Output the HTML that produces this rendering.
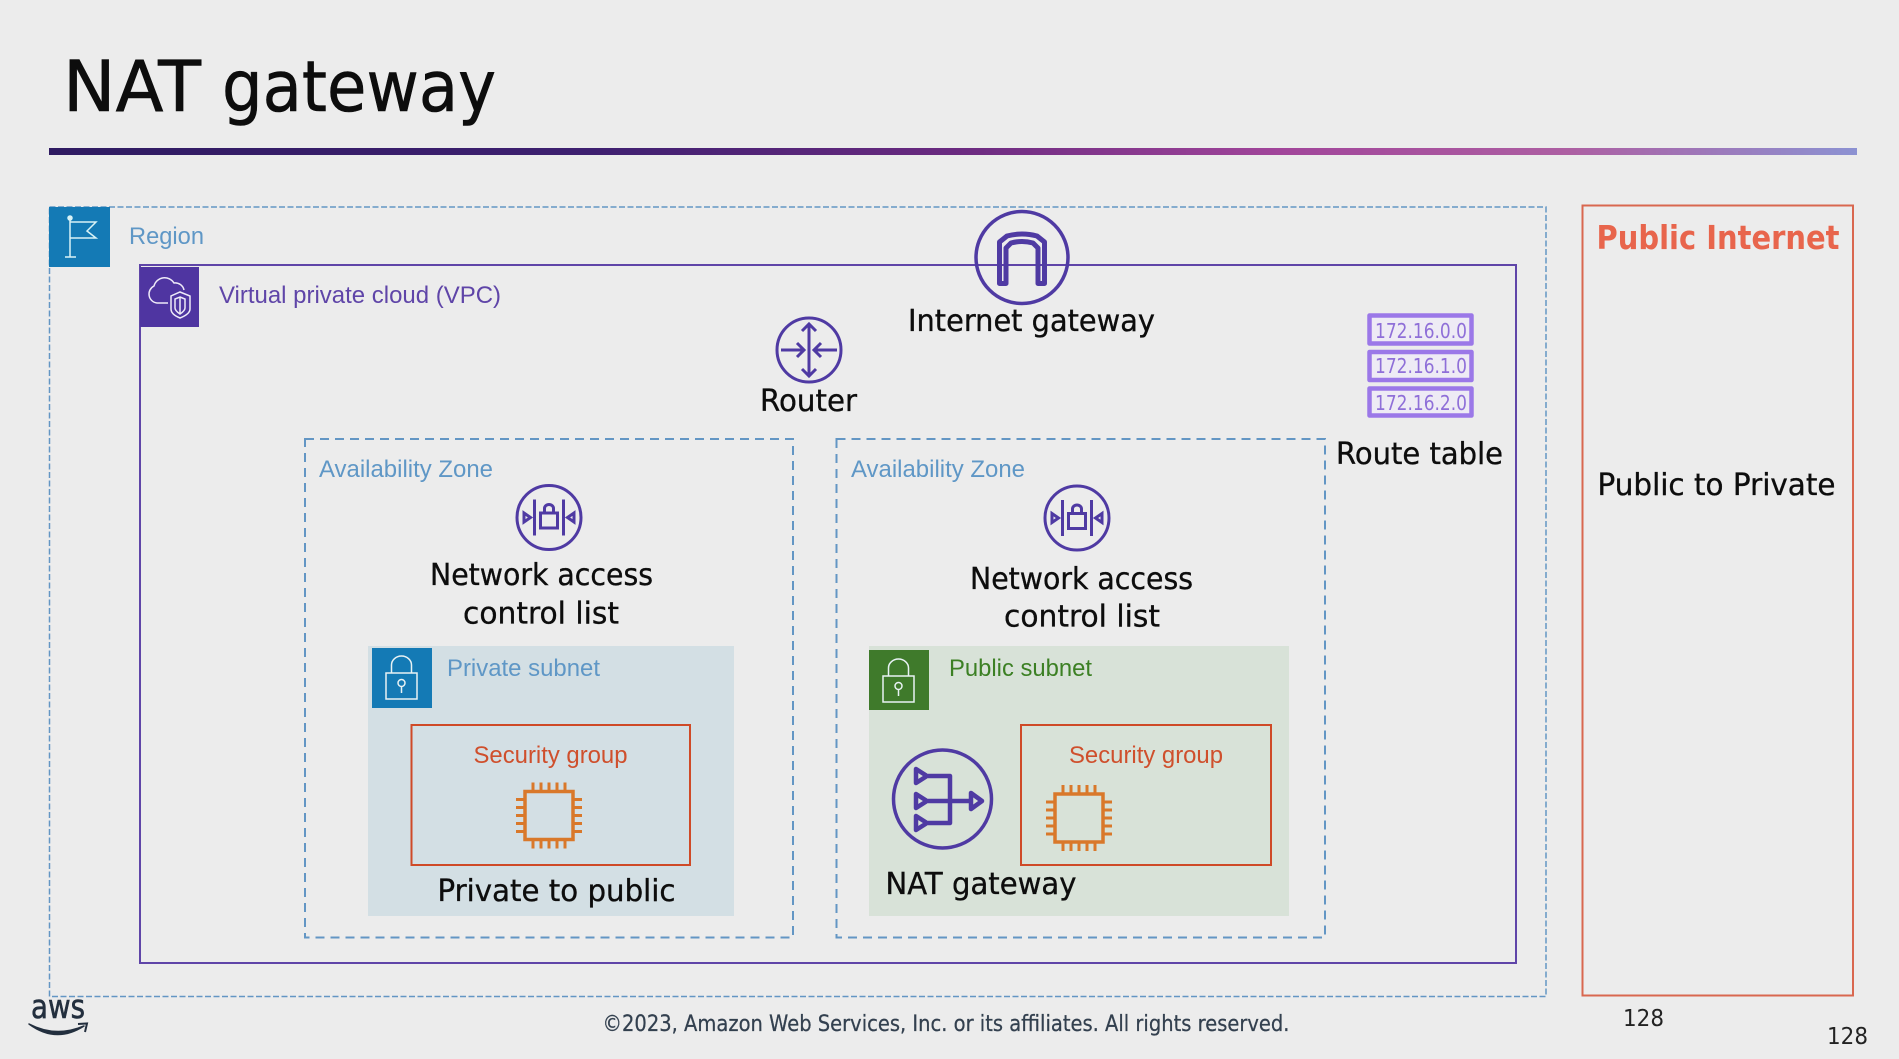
<!DOCTYPE html>
<html><head><meta charset="utf-8"><title>NAT gateway</title>
<style>
html,body{margin:0;padding:0;background:#ececec;width:1899px;height:1059px;overflow:hidden}
svg{display:block}
text{font-family:"DejaVu Sans","Liberation Sans",sans-serif;fill:#0d0d0d}
.k{stroke:#0d0d0d;stroke-width:.35}
.a{font-family:"Liberation Sans",Arial,sans-serif;font-size:24px}
.b{fill:#5f97c6}
</style></head><body>
<svg xmlns="http://www.w3.org/2000/svg" width="1899" height="1059" viewBox="0 0 1899 1059">
<defs>
<linearGradient id="g" x1="0" x2="1" y1="0" y2="0">
<stop offset="0" stop-color="#2f1b62"/><stop offset=".3" stop-color="#3e2070"/><stop offset=".5" stop-color="#6a2a80"/><stop offset=".68" stop-color="#a1459a"/><stop offset=".84" stop-color="#ad5fa2"/><stop offset="1" stop-color="#8c92d2"/>
</linearGradient>
<g id="nacl" fill="none" stroke="#4f3aa3" stroke-width="3">
<circle r="32"/>
<path d="M-14.5-18V18M14.5-18V18"/>
<rect x="-8.5" y="-4.5" width="17" height="15"/>
<path d="M-4.5-4.5V-9A4.5 4 0 0 1 4.5-9V-4.5"/>
<path d="M-25-4.5L-18.5 0L-25 4.5Z M25-4.5L18.5 0L25 4.5Z"/>
</g>
<g id="ec2" fill="none" stroke="#d9782a" stroke-width="3">
<rect x="-24" y="-24" width="48" height="48" stroke-width="3.5"/>
<path d="M-16-33V-24M-8-33V-24M0-33V-24M8-33V-24M16-33V-24M-16 33V24M-8 33V24M0 33V24M8 33V24M16 33V24M-33-16H-24M-33-8H-24M-33 0H-24M-33 8H-24M-33 16H-24M33-16H24M33-8H24M33 0H24M33 8H24M33 16H24"/>
</g>
<g id="lock" fill="none" stroke="#e8f2f4" stroke-width="1.5">
<rect x="-15.5" y="0" width="31" height="26"/>
<path d="M-10 0V-8A10 9 0 0 1 10-8V0"/>
<circle cx="0" cy="10" r="3.5"/><path d="M0 13.5V20"/>
</g>
</defs>

<rect width="1899" height="1059" fill="#ececec"/>
<text class="k" x="63" y="111" font-size="70" textLength="138" lengthAdjust="spacingAndGlyphs" style="stroke-width:.6">NAT</text>
<text class="k" x="222" y="111" font-size="70" textLength="274" lengthAdjust="spacingAndGlyphs" style="stroke-width:.6">gateway</text>
<rect x="49" y="148" width="1808" height="7" fill="url(#g)"/>

<!-- Region -->
<rect x="49.5" y="207" width="1496.5" height="789.5" fill="none" stroke="#6396c4" stroke-width="1.5" stroke-dasharray="6 2.5"/>
<rect x="49" y="207" width="61" height="60" fill="#147ab5"/>
<g fill="none" stroke="#d8f2f6" stroke-width="1.5">
<path d="M70 220V257M65 257H76M70 222H96L87 231L96 238H70"/><circle cx="70" cy="218" r="2" fill="#d8f2f6"/>
</g>
<text class="a b" x="129" y="244" textLength="75" lengthAdjust="spacingAndGlyphs">Region</text>

<!-- VPC -->
<rect x="140" y="265" width="1376" height="698" fill="none" stroke="#5f45a8" stroke-width="2"/>
<rect x="140" y="267" width="59" height="60" fill="#4f35a1"/>
<g fill="none" stroke="#eeeaf8" stroke-width="1.5">
<path d="M168 303H157A9 9 0 0 1 154 286A11 11 0 0 1 174 283A9 9 0 0 1 184 290"/>
<path d="M180 292L190 296V309C190 313 185 316 180 318C175 316 171 313 171 309V296Z"/>
<path d="M180 297L185 299V308C185 310 183 312 180 314C177 312 175 310 175 308V299Z"/><path d="M180 297V314"/>
</g>
<text class="a" x="219" y="303" style="fill:#5f45a8" textLength="282" lengthAdjust="spacingAndGlyphs">Virtual private cloud (VPC)</text>

<!-- Internet gateway -->
<g fill="none" stroke="#4f3aa3">
<circle cx="1022" cy="257.5" r="46" stroke-width="3.5"/>
<path d="M999.5 283.5V242L1007 236Q1022 232 1037 236L1044.5 242V283.5H1038V248L1033 243Q1022 240 1011 243L1006 248V283.5Z" stroke-width="5" stroke-linejoin="round"/>
</g>
<text class="k" x="908" y="331" font-size="30" textLength="247" lengthAdjust="spacingAndGlyphs">Internet gateway</text>

<!-- Router -->
<g fill="none" stroke="#4f3aa3" stroke-width="3">
<circle cx="809" cy="350" r="32"/>
<path d="M809 325V375M802 331L809 324L816 331M802 369L809 376L816 369"/>
<path d="M781 350H804M797 343L804 350L797 357M837 350H814M821 343L814 350L821 357"/>
</g>
<text class="k" x="760" y="411" font-size="30" textLength="97" lengthAdjust="spacingAndGlyphs">Router</text>

<!-- Route table -->
<g fill="#eeebf5" stroke="#9b78e8" stroke-width="4.5" stroke-linejoin="round">
<rect x="1369.5" y="315.5" width="102" height="28"/>
<rect x="1369.5" y="352" width="102" height="28"/>
<rect x="1369.5" y="388.5" width="102" height="27"/>
</g>
<text x="1375" y="338" font-size="20" textLength="92" lengthAdjust="spacingAndGlyphs" style="fill:#8f6fd8">172.16.0.0</text>
<text x="1375" y="373" font-size="20" textLength="92" lengthAdjust="spacingAndGlyphs" style="fill:#8f6fd8">172.16.1.0</text>
<text x="1375" y="410" font-size="20" textLength="92" lengthAdjust="spacingAndGlyphs" style="fill:#8f6fd8">172.16.2.0</text>
<text class="k" x="1336" y="464" font-size="30" textLength="167" lengthAdjust="spacingAndGlyphs">Route table</text>

<!-- AZ boxes -->
<g fill="none" stroke="#6396c4" stroke-width="2" stroke-dasharray="9 6">
<rect x="305" y="439" width="488" height="498.5"/>
<rect x="836.5" y="439" width="488.5" height="498.5"/>
</g>
<text class="a b" x="319" y="477" textLength="174" lengthAdjust="spacingAndGlyphs">Availability Zone</text>
<text class="a b" x="851" y="477" textLength="174" lengthAdjust="spacingAndGlyphs">Availability Zone</text>

<use href="#nacl" transform="translate(549 517.5)"/>
<use href="#nacl" transform="translate(1077 518)"/>

<text class="k" x="430" y="585" font-size="30" textLength="223" lengthAdjust="spacingAndGlyphs">Network access</text>
<text class="k" x="463" y="623.5" font-size="30" textLength="156" lengthAdjust="spacingAndGlyphs">control list</text>
<text class="k" x="970" y="589" font-size="30" textLength="223" lengthAdjust="spacingAndGlyphs">Network access</text>
<text class="k" x="1004" y="626.5" font-size="30" textLength="156" lengthAdjust="spacingAndGlyphs">control list</text>

<!-- Private subnet -->
<rect x="368" y="646" width="366" height="270" fill="#d3dfe4"/>
<rect x="372" y="648" width="60" height="60" fill="#147ab5"/>
<use href="#lock" transform="translate(401.5 673)"/>
<text class="a b" x="447" y="676" textLength="153" lengthAdjust="spacingAndGlyphs">Private subnet</text>
<rect x="411.5" y="725" width="278.5" height="140" fill="none" stroke="#cf4a27" stroke-width="2"/>
<text class="a" x="473.5" y="763" style="fill:#cf4f2c" textLength="154" lengthAdjust="spacingAndGlyphs">Security group</text>
<use href="#ec2" transform="translate(549 815.5)"/>
<text class="k" x="437.5" y="901" font-size="30" textLength="238" lengthAdjust="spacingAndGlyphs">Private to public</text>

<!-- Public subnet -->
<rect x="869" y="646" width="420" height="270" fill="#d8e2d8"/>
<rect x="869" y="650" width="60" height="60" fill="#3f7a2b"/>
<use href="#lock" transform="translate(898.5 676)"/>
<text class="a" x="949" y="676" style="fill:#3c8024" textLength="143" lengthAdjust="spacingAndGlyphs">Public subnet</text>
<rect x="1021" y="725" width="250" height="140" fill="none" stroke="#cf4a27" stroke-width="2"/>
<text class="a" x="1069" y="763" style="fill:#cf4f2c" textLength="154" lengthAdjust="spacingAndGlyphs">Security group</text>
<use href="#ec2" transform="translate(1079 818)"/>

<!-- NAT gateway icon -->
<g fill="none" stroke="#4f3aa3" stroke-width="4.5" stroke-linejoin="round">
<circle cx="942.5" cy="799" r="49" stroke-width="3.5"/>
<path d="M916 769L927 776L916 783Z M916 794L927 801L916 808Z M916 816L927 823L916 830Z M971 793L982 801L971 809Z"/>
<path d="M928 776H950V823H928M928 801H970"/>
</g>
<text class="k" x="885.5" y="894" font-size="30" textLength="191" lengthAdjust="spacingAndGlyphs">NAT gateway</text>

<!-- Public Internet -->
<rect x="1582.5" y="205.5" width="270.5" height="790" fill="none" stroke="#d9674f" stroke-width="2"/>
<text x="1596.5" y="249" font-size="33" font-weight="bold" textLength="243" lengthAdjust="spacingAndGlyphs" style="fill:#e8654c">Public Internet</text>
<text class="k" x="1597.5" y="495" font-size="30" textLength="238" lengthAdjust="spacingAndGlyphs">Public to Private</text>

<!-- footer -->
<text x="1623" y="1026" font-size="23" textLength="41" lengthAdjust="spacingAndGlyphs" style="fill:#222">128</text>
<text x="1827" y="1044" font-size="23" textLength="41" lengthAdjust="spacingAndGlyphs" style="fill:#222">128</text>
<text x="602.5" y="1031" font-size="22" textLength="687" lengthAdjust="spacingAndGlyphs" style="fill:#33404f;stroke:#33404f;stroke-width:.25">©2023, Amazon Web Services, Inc. or its affiliates. All rights reserved.</text>
<text x="31" y="1018" font-size="33" textLength="54" lengthAdjust="spacingAndGlyphs" style="fill:#232f3e;stroke:#232f3e;stroke-width:.6">aws</text>
<path d="M29 1024Q56 1044 84 1026Q56 1038 29 1024Z" fill="#232f3e" stroke="#232f3e" stroke-width="1.5" stroke-linejoin="round"/>
<path d="M78 1024L87 1023.5L85 1032" fill="none" stroke="#232f3e" stroke-width="2"/>
</svg>
</body></html>
